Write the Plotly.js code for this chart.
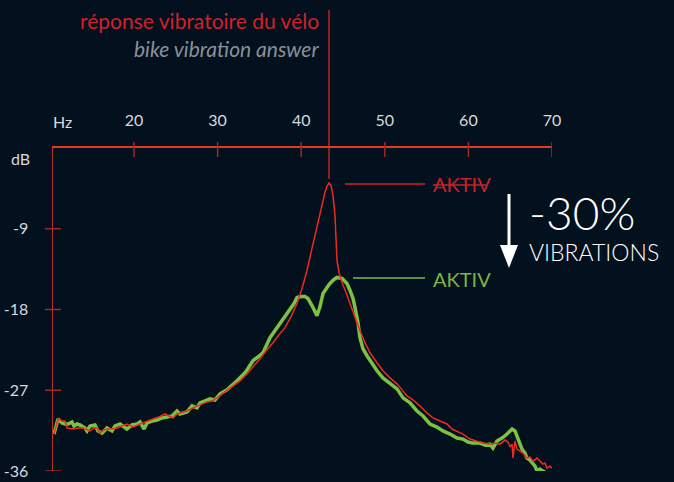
<!DOCTYPE html>
<html>
<head>
<meta charset="utf-8">
<script src="https://cdn.plot.ly/plotly-3.0.1.min.js"></script>
<style>html,body{margin:0;padding:0;background:#03101e;}#chart{width:674px;height:482px;}</style>
</head>
<body>
<div id="chart"></div>
<script>
// Frequency ticks (Hz) and level ticks (dB)
const xTickVals = [20, 30, 40, 50, 60, 70];
const xTickText = ["20", "30", "40", "50", "60", "70"];
const yTickVals = [-9, -18, -27, -36];
const yTickText = ["-9", "-18", "-27", "-36"];

// Red curve: standard bike (without AKTIV)
const redHz = [10.43,10.91,11.39,11.75,11.99,12.70,13.30,13.90,14.74,15.22,15.57,15.93,16.41,16.77,17.37,17.97,18.56,19.16,19.88,20.72,21.44,22.27,22.99,23.71,24.19,24.67,25.14,25.50,26.34,27.06,27.89,28.73,29.33,29.93,30.53,31.12,31.84,32.68,33.52,34.23,35.07,35.79,36.63,37.34,38.06,38.78,39.50,40.10,40.69,41.29,41.89,42.25,42.61,42.85,43.09,43.33,43.56,43.80,44.04,44.16,44.28,44.52,44.88,45.36,45.84,46.44,47.03,47.63,48.23,49.07,49.78,50.62,51.46,52.06,52.66,53.37,54.21,55.05,55.77,56.60,57.44,58.04,58.64,59.35,60.19,60.91,61.75,62.58,63.30,63.78,64.38,64.74,64.98,65.22,65.34,65.45,65.57,65.81,66.17,66.53,67.01,67.37,67.73,68.21,68.56,68.92,69.16,69.40,69.76,70.00];
const redDb = [-31.88,-30.20,-30.43,-30.43,-31.21,-31.32,-31.21,-31.21,-31.54,-31.21,-31.21,-31.77,-31.43,-31.32,-31.32,-31.21,-30.98,-30.76,-31.10,-30.76,-30.54,-30.20,-29.98,-29.64,-29.87,-30.09,-29.64,-29.53,-29.31,-28.97,-28.64,-28.30,-28.19,-27.85,-27.40,-26.96,-26.51,-25.95,-25.17,-24.38,-23.49,-22.60,-21.70,-20.81,-20.02,-18.79,-17.34,-15.66,-13.65,-11.19,-8.84,-7.16,-5.82,-4.92,-4.25,-3.91,-4.14,-5.26,-7.49,-10.29,-12.53,-13.87,-14.99,-16.11,-17.34,-18.90,-20.36,-21.70,-22.82,-23.94,-24.83,-25.62,-26.29,-26.96,-27.63,-28.08,-28.75,-29.53,-30.09,-30.43,-30.76,-31.32,-31.54,-31.88,-32.44,-32.66,-32.89,-33.00,-32.89,-33.00,-32.55,-32.77,-33.33,-33.00,-34.56,-33.56,-32.66,-33.56,-33.78,-34.00,-34.56,-34.45,-34.90,-34.56,-34.90,-35.23,-35.12,-35.68,-35.46,-35.68];

// Green curve: bike with AKTIV
const greenHz = [10.43,10.91,11.39,11.75,12.11,12.58,12.82,13.18,13.54,14.14,14.38,14.74,15.33,15.69,16.17,16.77,17.37,17.73,18.33,18.92,19.16,19.76,20.36,20.72,21.20,21.56,22.15,22.75,23.35,23.95,24.55,25.14,25.50,26.34,26.94,27.54,27.89,28.49,29.09,29.69,30.29,31.12,31.72,32.32,33.28,34.23,34.83,35.43,36.27,36.87,37.46,38.06,38.66,39.14,39.50,39.98,40.45,40.81,41.29,41.89,42.25,42.61,43.09,43.44,43.92,44.28,44.88,45.48,45.84,46.20,46.44,46.79,47.03,47.39,47.87,48.23,49.07,49.78,50.62,51.46,52.18,53.01,53.85,54.57,55.41,56.24,56.96,57.80,58.64,59.35,59.95,60.55,61.39,61.99,62.58,62.94,63.42,64.02,64.62,65.22,65.57,65.81,66.17,66.41,66.77,67.01,67.37,67.73,67.97,68.21,68.56,68.92,69.40,69.76];
const greenDb = [-31.88,-30.20,-30.65,-30.76,-30.76,-30.54,-30.98,-30.76,-30.87,-31.21,-31.54,-30.98,-30.87,-31.54,-31.77,-31.21,-31.54,-30.98,-30.76,-31.21,-31.32,-30.87,-30.76,-30.54,-31.32,-30.65,-30.43,-30.31,-30.09,-29.98,-29.87,-29.31,-29.64,-29.42,-28.75,-28.97,-28.41,-28.19,-27.96,-28.08,-27.40,-26.96,-26.51,-25.95,-25.06,-23.71,-23.27,-22.82,-21.14,-20.36,-19.57,-18.90,-18.12,-17.34,-16.67,-16.55,-16.55,-16.78,-17.56,-18.68,-17.67,-16.22,-15.55,-15.10,-14.65,-14.43,-14.54,-15.10,-15.88,-16.78,-17.79,-19.46,-21.14,-22.37,-23.15,-23.71,-24.83,-25.62,-26.29,-26.85,-27.85,-28.41,-29.31,-29.87,-30.76,-31.10,-31.54,-31.88,-32.33,-32.44,-32.77,-32.89,-32.89,-33.11,-33.00,-33.45,-32.66,-32.33,-31.88,-31.32,-31.54,-32.10,-32.89,-33.56,-34.00,-34.56,-34.79,-35.12,-35.46,-36.02,-35.79,-36.02,-36.24,-36.80];

const titleFr = "réponse vibratoire du vélo";
const titleEn = "bike vibration answer";
const labelAktiv = "AKTIV";
const labelPct = "-30%";
const labelVib = "VIBRATIONS";

const BG = "#03101e";
const RED = "#ee2a22";
const GREEN = "#7cc142";
const AXRED = "#e23a24";
const DARKRED = "#a12a26";
const TXT = "#d6d9dd";
const FONT = "Lato, 'Open Sans', sans-serif";

// peak of red curve
let pk = 0;
for (let i = 1; i < redDb.length; i++) if (redDb[i] > redDb[pk]) pk = i;
const peakHz = redHz[pk];

const W = 499, H = 323; // plot area size in px
const px = v => v / W, py = v => v / H;

const shapes = [];
// x tick marks crossing the top axis line
xTickVals.forEach(v => shapes.push({type:"line", xref:"x", yref:"paper", x0:v, x1:v, y0:1 - py(9), y1:1 + py(6), line:{color:DARKRED, width:1.5}}));
// y tick marks crossing the left axis line
yTickVals.forEach(v => shapes.push({type:"line", xref:"paper", yref:"y", x0:-px(8), x1:px(8), y0:v, y1:v, line:{color:DARKRED, width:1.5}}));
// vertical marker at the resonance peak
shapes.push({type:"line", xref:"x", yref:"paper", x0:peakHz, x1:peakHz, y0:py(471-179), y1:py(471-10), line:{color:"#8e1e27", width:2}, layer:"below"});
// connector lines to AKTIV labels
shapes.push({type:"line", xref:"paper", yref:"paper", x0:px(345-53), x1:px(425-53), y0:py(471-184), y1:py(471-184), line:{color:"#9e1c26", width:2}});
shapes.push({type:"line", xref:"paper", yref:"paper", x0:px(433-53), x1:px(486-53), y0:py(471-185), y1:py(471-185), line:{color:"#c8202a", width:1.5}});
shapes.push({type:"line", xref:"paper", yref:"paper", x0:px(353-53), x1:px(425-53), y0:py(471-278), y1:py(471-278), line:{color:"#5f9038", width:2}});
// down arrow
shapes.push({type:"line", xref:"paper", yref:"paper", x0:px(509-53), x1:px(509-53), y0:py(471-194), y1:py(471-250), line:{color:"#ffffff", width:3}});
shapes.push({type:"path", xref:"paper", yref:"paper",
  path:`M ${px(500-53)} ${py(471-245)} L ${px(518-53)} ${py(471-245)} L ${px(509-53)} ${py(471-268)} Z`,
  fillcolor:"#ffffff", line:{color:"#ffffff", width:0}});

const annotations = [
  {xref:"paper", yref:"paper", x:px(321-53), y:py(471-21), xanchor:"right", yanchor:"middle", showarrow:false, text:titleFr, font:{family:FONT, size:21, color:"#d2202a"}},
  {xref:"paper", yref:"paper", x:px(321-53), y:py(471-48), xanchor:"right", yanchor:"middle", showarrow:false, text:"<i>"+titleEn+"</i>", font:{family:FONT, size:21, color:"#8a9097"}},
  {xref:"paper", yref:"paper", x:px(62-53), y:py(471-122), xanchor:"center", yanchor:"middle", showarrow:false, text:"Hz", font:{family:FONT, size:16, color:TXT}},
  {xref:"paper", yref:"paper", x:px(20-53), y:py(471-158), xanchor:"center", yanchor:"middle", showarrow:false, text:"dB", font:{family:FONT, size:16, color:TXT}},
  {xref:"paper", yref:"paper", x:px(431-53), y:py(471-184), xanchor:"left", yanchor:"middle", showarrow:false, text:labelAktiv, font:{family:FONT, size:20, color:"#c8202a"}},
  {xref:"paper", yref:"paper", x:px(431-53), y:py(471-279), xanchor:"left", yanchor:"middle", showarrow:false, text:labelAktiv, font:{family:FONT, size:20, color:"#7ab648"}},
  {xref:"paper", yref:"paper", x:px(527-53), y:py(471-212), xanchor:"left", yanchor:"middle", showarrow:false, text:labelPct, font:{family:FONT, size:46, color:"#ffffff", weight:300}},
  {xref:"paper", yref:"paper", x:px(527-53), y:py(471-252), xanchor:"left", yanchor:"middle", showarrow:false, text:labelVib, font:{family:FONT, size:23, color:"#ffffff", weight:300}}
];

const data = [
  {x:greenHz, y:greenDb, type:"scatter", mode:"lines", line:{color:GREEN, width:3.5}, hoverinfo:"skip"},
  {x:redHz, y:redDb, type:"scatter", mode:"lines", line:{color:RED, width:1.5}, hoverinfo:"skip"}
];

const layout = {
  width:674, height:482,
  margin:{l:53, r:122, t:148, b:11},
  paper_bgcolor:BG, plot_bgcolor:BG,
  showlegend:false,
  font:{family:FONT, color:TXT},
  xaxis:{range:[10.31, 70], side:"top", showgrid:false, zeroline:false, showline:true, linecolor:AXRED, linewidth:2,
    tickvals:xTickVals, ticktext:xTickText, ticks:"outside", ticklen:14, tickcolor:"rgba(0,0,0,0)",
    tickfont:{family:FONT, size:16, color:TXT}},
  yaxis:{range:[-36, 0], showgrid:false, zeroline:false, showline:true, linecolor:"#b8342a", linewidth:1.5,
    tickvals:yTickVals, ticktext:yTickText, ticks:"outside", ticklen:20, tickcolor:"rgba(0,0,0,0)",
    tickfont:{family:FONT, size:16, color:TXT}},
  shapes:shapes,
  annotations:annotations
};

Plotly.newPlot("chart", data, layout, {staticPlot:true, displayModeBar:false});
</script>
</body>
</html>
